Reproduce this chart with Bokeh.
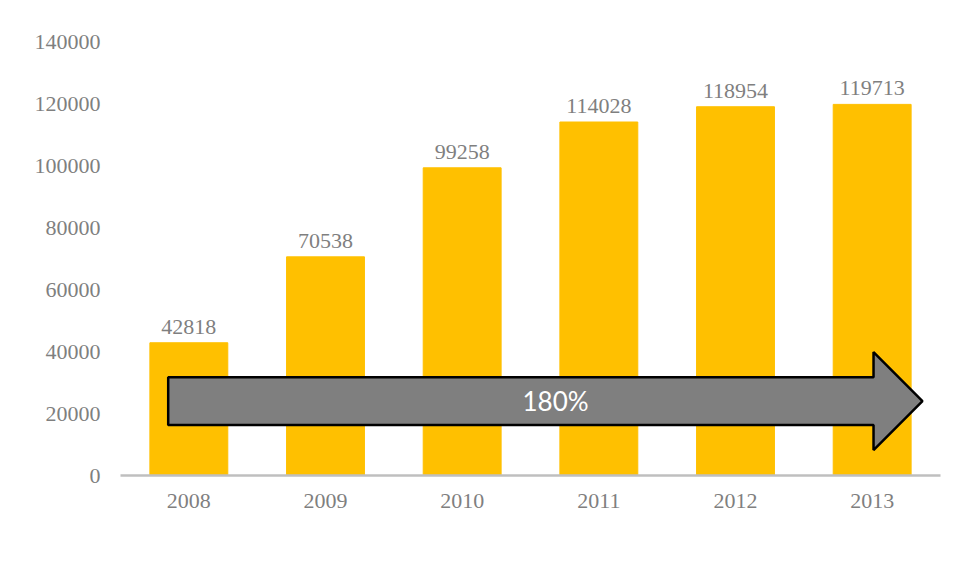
from bokeh.plotting import figure
from bokeh.models import Range1d, FixedTicker, Legend, LegendItem, ColumnDataSource, Label
from bokeh.core.properties import value
from bokeh.embed import file_html
from bokeh.resources import INLINE

years = ["2008", "2009", "2010", "2011", "2012", "2013"]
freq = [42818, 70538, 99258, 114028, 118954, 119713]
y_ticks = [0, 20000, 40000, 60000, 80000, 100000, 120000, 140000]
series_name = "Frequência"
growth_label = "180%"

x_pos = [i + 0.5 for i in range(len(years))]
src = ColumnDataSource(dict(x=x_pos, top=freq, label=[str(v) for v in freq]))

FONT = "Liberation Serif"
GRAY = "#7f7f7f"

p = figure(frame_width=820, frame_height=434, x_range=Range1d(0, len(years)), y_range=Range1d(0, y_ticks[-1]),
           output_backend="svg", toolbar_location=None,
           min_border_left=120, min_border_top=41, min_border_right=12, min_border_bottom=100)

bars = p.vbar(x="x", top="top", width=0.57, source=src, color="#FFC000")

# growth arrow (decorative)
ac, sh, hh = 24000, 7700, 15800
x0, xb, xt = 0.349, 5.51, 5.868
p.patch([x0, xb, xb, xt, xb, xb, x0], [ac + sh, ac + sh, ac + hh, ac, ac - hh, ac - sh, ac - sh],
        fill_color="#7f7f7f", line_color="black", line_width=2.5)
p.add_layout(Label(x=3.183, y=ac, text=growth_label, text_color="white", text_font="Lato",
                   text_font_size="26px", text_align="center", text_baseline="middle"))

p.text(x="x", y="top", text="label", source=src, y_offset=-16, text_align="center",
       text_baseline="alphabetic", text_color=GRAY, text_font=value(FONT), text_font_size="22px")

p.xaxis.ticker = FixedTicker(ticks=x_pos)
p.xaxis.major_label_overrides = {xv: y for xv, y in zip(x_pos, years)}
p.yaxis.ticker = FixedTicker(ticks=y_ticks)
p.yaxis.formatter.use_scientific = False
for ax in (p.xaxis, p.yaxis):
    ax.major_tick_line_color = None
    ax.minor_tick_line_color = None
    ax.major_tick_out = 0
    ax.major_tick_in = 0
    ax.major_label_text_font = FONT
    ax.major_label_text_font_size = "22px"
    ax.major_label_text_color = GRAY
p.xaxis.axis_line_color = "#bfbfbf"
p.xaxis.axis_line_width = 2.5
p.xaxis.major_label_standoff = 18
p.yaxis.axis_line_color = None
p.yaxis.major_label_standoff = 20
p.xgrid.grid_line_color = None
p.ygrid.grid_line_color = None
p.outline_line_color = None

legend = Legend(items=[LegendItem(label=series_name, renderers=[bars])], orientation="horizontal",
                location=(310, -94), border_line_color=None, background_fill_alpha=0,
                label_text_font=FONT, label_text_font_size="22px", label_text_color=GRAY,
                glyph_width=11, glyph_height=11, label_standoff=6, padding=4, margin=0)
p.add_layout(legend, "center")

open("out.html", "w").write(file_html(p, INLINE))
